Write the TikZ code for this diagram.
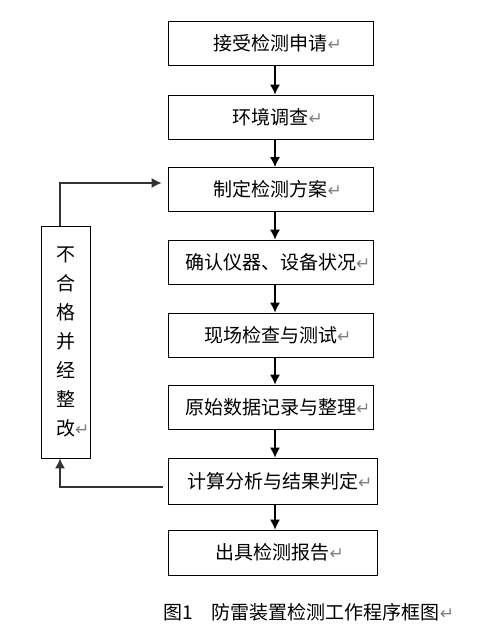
\documentclass[tikz,border=0pt]{standalone}
\usepackage{fontspec}
\setmainfont{Noto Sans CJK SC}
\newfontfamily\symfont{DejaVu Sans}
\usetikzlibrary{arrows.meta}
\newcommand{\retmark}{\rlap{\textcolor{gray}{\symfont\fontsize{17bp}{17bp}\selectfont ↵}}}
\begin{document}
\begin{tikzpicture}[x=1bp,y=-1bp,>={Latex[length=10bp,width=10bp]},font=\fontsize{19bp}{29bp}\selectfont,
    box/.style={draw,line width=0.8bp,minimum width=205bp,minimum height=44bp,inner sep=0pt},
    arr/.style={->,line width=1.2bp},
    fb/.style={->,line width=1.4bp,black!80}]
            \useasboundingbox (0,0) rectangle (493,630);
            \coordinate (ax) at (275,0);
            \coordinate (fbx) at (60,0);
            \foreach \n/\y/\t in {1/43/接受检测申请,2/117/环境调查,3/189.5/制定检测方案,
                    4/262/确认仪器、设备状况,5/335/现场检查与测试,6/407/原始数据记录与整理}
                \node[box] (n\n) at (270.5,\y) {\t\retmark};
            \node[box,minimum width=209bp,minimum height=46bp] (n7) at (272.5,481) {计算分析与结果判定\retmark};
            \node[box,minimum width=209bp,minimum height=45bp] (n8) at (272.5,552.5) {出具检测报告\retmark};
            \foreach \a/\b in {1/2,2/3,3/4,4/5,5/6,6/7,7/8}\draw[arr] (n\a.south -| ax)--(n\b.north -| ax);
            %===========================================
            \node[draw,line width=0.8bp,minimum width=49bp,minimum height=232bp,inner sep=0pt,align=center] (lb) at (65.5,342)
                {不\\合\\格\\并\\经\\整\\改\retmark};
            \draw[fb] ([shift={(-5,6)}]n7.west) -| (lb.south -| fbx);
            \draw[fb] (lb.north -| fbx) |- ([shift={(-6,-6.5)}]n3.west);
            \node (cap) at (301.5,612) {图1　防雷装置检测工作程序框图\retmark};
    \end{tikzpicture}
\end{document}
